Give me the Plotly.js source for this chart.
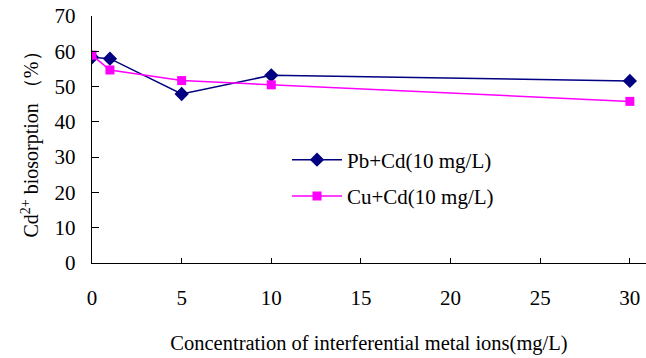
<!DOCTYPE html>
<html>
<head>
<meta charset="utf-8">
<script src="https://cdn.plot.ly/plotly-3.0.1.min.js"></script>
<style>html,body{margin:0;padding:0;background:#fff;}#chart{width:646px;height:358px;}</style>
</head>
<body>
<div id="chart"></div>
<script>
const concentration = [0, 1, 5, 10, 30];
const pbCd = [58.3, 57.9, 47.9, 53.2, 51.6];
const cuCd = [58.9, 54.7, 51.7, 50.5, 45.8];
const seriesNames = ["Pb+Cd(10 mg/L)", "Cu+Cd(10 mg/L)"];
const xTicks = [0, 5, 10, 15, 20, 25, 30];
const yTicks = [0, 10, 20, 30, 40, 50, 60, 70];

const font = {family: "Times New Roman, Liberation Serif, DejaVu Serif, serif", color: "#000"};

const traces = [
  {x: concentration, y: pbCd, name: seriesNames[0], legendgroup: "a", mode: "lines+markers",
   line: {color: "#000080", width: 1.5},
   marker: {symbol: "diamond", size: 11, color: "#000080"}},
  {x: concentration, y: cuCd, name: seriesNames[1], legendgroup: "b", mode: "lines+markers",
   line: {color: "#FF00FF", width: 1.5},
   marker: {symbol: "square", size: 9, color: "#FF00FF"}}
];

const layout = {
  width: 646, height: 358,
  margin: {l: 92, r: 0, t: 16, b: 95},
  paper_bgcolor: "#fff", plot_bgcolor: "#fff",
  font: Object.assign({size: 20}, font),
  showlegend: true,
  legend: {x: 0.352, y: 0.50, xanchor: "left", yanchor: "top",
           font: Object.assign({size: 21}, font), bgcolor: "rgba(0,0,0,0)",
           tracegroupgap: 6, itemwidth: 50},
  xaxis: {range: [0, 30.9], tickvals: xTicks, ticks: "inside", ticklen: 5,
          tickcolor: "#000", showline: true, linecolor: "#000", linewidth: 1.3,
          showgrid: false, zeroline: false, ticklabelstandoff: 15,
          tickfont: Object.assign({size: 21}, font),
          title: {text: "Concentration of interferential metal ions(mg/L)",
                  font: Object.assign({size: 20.5}, font), standoff: 27}},
  yaxis: {range: [0, 70], tickvals: yTicks, ticks: "inside", ticklen: 7,
          tickcolor: "#000", showline: true, linecolor: "#000", linewidth: 1.3,
          showgrid: false, zeroline: false, ticklabelstandoff: 11,
          tickfont: Object.assign({size: 21}, font),
          title: {text: "Cd<sup>2+</sup> biosorption （%）",
                  font: Object.assign({size: 20}, font), standoff: 10}}
};

Plotly.newPlot("chart", traces, layout, {staticPlot: true, displayModeBar: false});
</script>
</body>
</html>
